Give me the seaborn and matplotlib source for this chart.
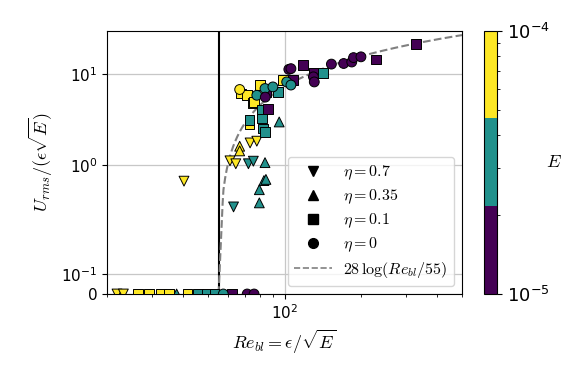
import numpy as np
import pandas as pd
import matplotlib
matplotlib.use("Agg")
import matplotlib.pyplot as plt
import seaborn as sns
from matplotlib.colors import ListedColormap, LogNorm
from matplotlib.lines import Line2D
from matplotlib.ticker import NullLocator

plt.rcParams["mathtext.fontset"] = "cm"

# eta = 0.7 (down triangles)
re_07 = [21.9, 23.2, 40.2, 61.0, 64.3, 73.2, 77.8, 63.0, 72.1, 75.4]
u_07 = [0, 0, 0.67, 1.12, 1.04, 1.76, 1.84, 0.43, 1.04, 1.11]
e_07 = [1e-4, 1e-4, 1e-4, 1e-4, 1e-4, 1e-4, 1e-4, 3e-5, 3e-5, 3e-5]

# eta = 0.35 (up triangles)
re_035 = [66.6, 66.6, 37.6, 79.6, 79.6, 83.0, 84.5, 83.8, 95.3]
u_035 = [1.62, 1.44, 0, 0.45, 0.54, 0.68, 0.70, 1.07, 2.99]
e_035 = [1e-4, 1e-4, 3e-5, 3e-5, 3e-5, 3e-5, 3e-5, 3e-5, 3e-5]

# eta = 0.1 (squares)
re_01 = [26.5, 29.2, 32.6, 35.0, 41.5, 67.5, 71.1, 75.4, 80.0, 98.7, 72.8, 76.0,
         45.8, 49.7, 53.0, 81.3, 81.3, 82.5, 72.8, 94.4, 83.8, 142,
         62.3, 85.0, 86.3, 108, 118, 130, 230, 330]
u_01 = [0, 0, 0, 0, 0, 6.13, 5.87, 4.84, 7.56, 8.6, 2.85, 4.97,
        0, 0, 0, 4.02, 3.26, 2.53, 3.12, 6.38, 2.32, 10.3,
        0, 6.38, 4.19, 8.6, 12.5, 10.3, 14.5, 21.4]
e_01 = [1e-4] * 12 + [3e-5] * 10 + [1e-5] * 8

# eta = 0 (circles)
re_0 = [66.6,
        57.4, 77.8, 83.8, 90.0, 102, 106,
        71.3, 75.9, 84.0, 104, 106, 130, 131, 153, 171, 184, 187, 200]
u_0 = [6.79,
       0, 5.87, 6.96, 7.25, 8.22, 7.6,
       0, 0, 5.6, 11.3, 11.5, 9.35, 8.22, 12.9, 13.1, 13.6, 15.2, 15.5]
e_0 = [1e-4] + [3e-5] * 6 + [1e-5] * 12

markers = {"0.7": "v", "0.35": "^", "0.1": "s", "0": "o"}

frames = []
for eta, re, u, e in [("0.7", re_07, u_07, e_07), ("0.35", re_035, u_035, e_035),
                      ("0.1", re_01, u_01, e_01), ("0", re_0, u_0, e_0)]:
    frames.append(pd.DataFrame({"Re": re, "U": u, "E": e, "eta": eta}))
df = pd.concat(frames, ignore_index=True)

vir = plt.get_cmap("viridis")
cmap = ListedColormap([vir(0.0), vir(0.5), vir(1.0)])
norm = LogNorm(1e-5, 1e-4)

fig = plt.figure(figsize=(5.81, 3.88), dpi=100)
ax = fig.add_axes([107 / 581, 94 / 388, 355 / 581, 263.3 / 388])
cax = fig.add_axes([484 / 581, 94 / 388, 13 / 581, 263.3 / 388])

ax.grid(True, which="major", color="0.78", lw=0.9, zorder=0)
ax.set_axisbelow(True)
ax.axvline(55, color="black", lw=1.5, zorder=1)

re_fit = np.logspace(np.log10(55), np.log10(500), 300)
ax.plot(re_fit, 28 * np.log10(re_fit / 55), color="gray", ls="--", lw=1.5, zorder=1)

sns.scatterplot(data=df, x="Re", y="U", hue="E", style="eta", markers=markers,
                palette=cmap, hue_norm=norm, s=50, edgecolor="black", linewidth=0.7,
                legend=False, ax=ax, zorder=3)

ax.set_xscale("log")
ax.set_yscale("symlog", linthresh=0.5)
ax.set_xlim(20, 500)
ax.set_ylim(0, 30)
ax.set_yticks([0, 0.1, 1, 10])
ax.set_yticklabels(["0", r"$\mathdefault{10^{-1}}$", r"$\mathdefault{10^{0}}$", r"$\mathdefault{10^{1}}$"])
ax.yaxis.set_minor_locator(NullLocator())
ax.tick_params(labelsize=11)
ax.set_xlabel(r"$Re_{bl} = \epsilon/\sqrt{E}$", fontsize=13)
ax.set_ylabel(r"$U_{rms}/(\epsilon\sqrt{E})$", fontsize=13)

handles = [Line2D([], [], marker=m, color="black", ls="none", markersize=7) for m in ["v", "^", "s", "o"]]
handles.append(Line2D([], [], color="gray", ls="--", lw=1.2))
labels = [r"$\eta = 0.7$", r"$\eta = 0.35$", r"$\eta = 0.1$", r"$\eta = 0$", r"$28\,\log(Re_{bl}/55)$"]
ax.legend(handles, labels, loc="lower right", fontsize=11.5, labelspacing=0.35,
          handlelength=2.4, handletextpad=0.7)

sm = plt.cm.ScalarMappable(cmap=cmap, norm=norm)
cbar = fig.colorbar(sm, cax=cax)
cbar.minorticks_on()
cbar.ax.tick_params(labelsize=13)
cbar.set_label("$E$", rotation=0, fontsize=13, labelpad=3, va="center")

fig.savefig("out.png", dpi=100)
